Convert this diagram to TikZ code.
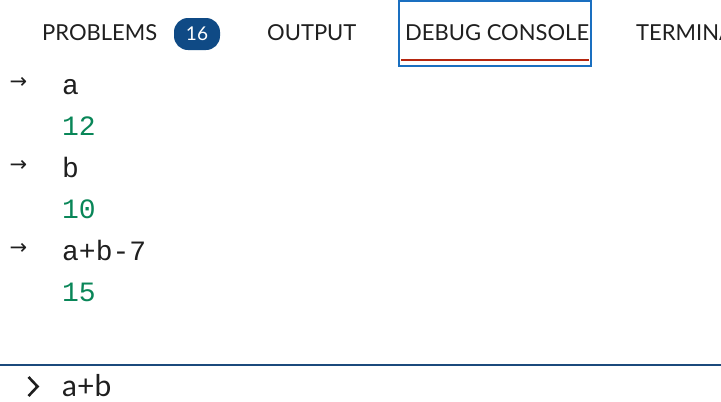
\documentclass[tikz,border=0pt]{standalone}
\usepackage{fontspec}
\setmainfont{Lato}
\newfontfamily\codefont{Liberation Mono}
\newfontfamily\symfont{DejaVu Sans}
\usetikzlibrary{positioning}
\definecolor{ink}{HTML}{1F1F1F}
\definecolor{numgreen}{HTML}{098658}
\definecolor{badgeblue}{HTML}{0F4A85}
\definecolor{focusblue}{HTML}{1A6FC0}
\definecolor{tabred}{HTML}{B5260F}
\definecolor{sepblue}{HTML}{1B4A7C}
\tikzset{
  tab/.style={anchor=base west,inner sep=0pt,text=ink,font=\fontsize{22}{26}\selectfont},
  code/.style={anchor=base west,inner sep=0pt,text=ink,font=\codefont\fontsize{28}{32}\selectfont},
  val/.style={code,text=numgreen},
  prm/.style={anchor=center,inner sep=0pt,text=ink,font=\symfont\fontsize{21}{24}\selectfont},
}
\begin{document}
\begin{tikzpicture}[x=1pt,y=-1pt]
  \clip (0,0) rectangle (721,402);
  \fill[white] (0,0) rectangle (721,402);
  % tabs
  \node[tab] (nprob) at (42,40){PROBLEMS};
  \node[fill=badgeblue,text=white,rounded corners=14pt,minimum width=46pt,
    minimum height=32pt,inner sep=0pt,font=\fontsize{19}{22}\selectfont]
    (nbadge) at (197,34){16};
  \node[tab] (nout) at (267,40){OUTPUT};
  \node[tab] (ndbg) at (405,40){DEBUG CONSOLE};
  \node[tab] (nterm) at (636,40){TERMINAL};
  % active tab
  \draw[focusblue,line width=2pt] (399,1) rectangle (591,66);
  \draw[tabred,line width=2.5pt] (401,60) -- (589,60);
  % evaluated lines
  \foreach \i/\e/\v/\yy in {1/a/12/94,2/b/10/177,3/a+b-7/15/260}{
    \node[prm] (na\i) at (18.5,\yy-11){→};
    \node[code] (ne\i) at (62,\yy){\e};
    \node[val] (nv\i) at (62,\yy+41.5){\v};
  }
  % input line
  \draw[sepblue,line width=2pt] (0,365) -- (721,365);
  \draw[ink,line width=2.6pt] (28.5,377) -- (37.5,386.5) -- (28.5,396);
  \node[anchor=base west,inner sep=0pt,text=ink,font=\fontsize{30}{34}\selectfont]
    (nin) at (62,396){a+b};
\end{tikzpicture}
\end{document}
